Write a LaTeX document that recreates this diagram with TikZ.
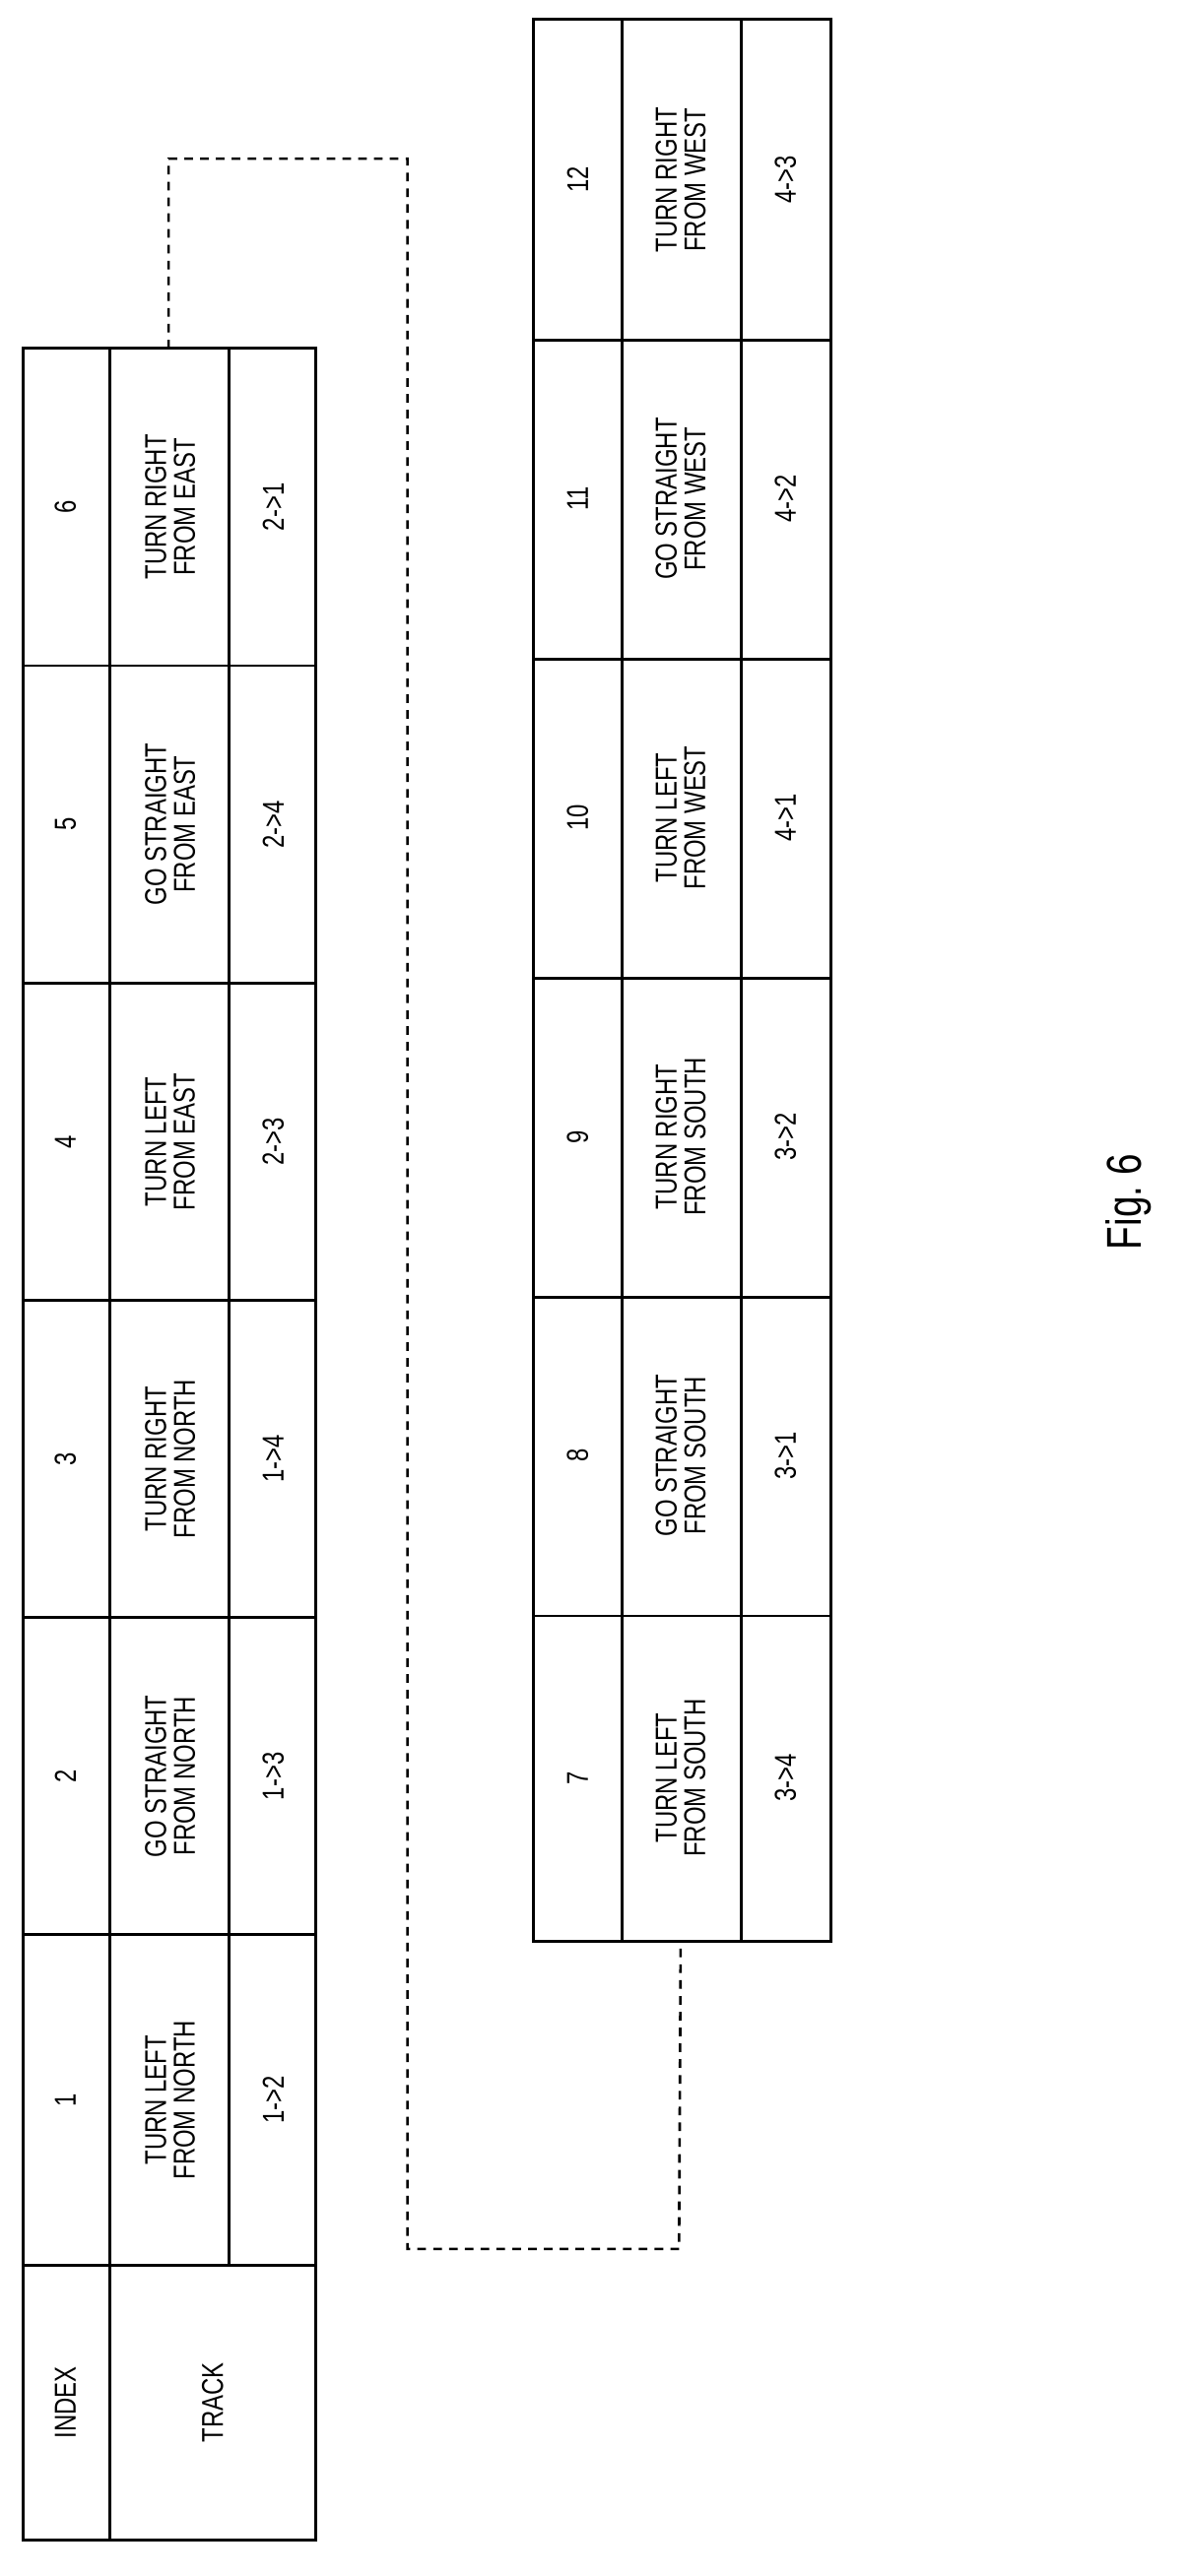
\documentclass[tikz,border=0pt]{standalone}
\usepackage{fontspec}
\newfontfamily\cond[FakeStretch=0.78]{Liberation Sans}
\begin{document}
\begin{tikzpicture}[x=0.02cm,y=-0.02cm,line width=1pt,
	txt/.style={rotate=90,font=\cond\fontsize{10.5}{10}\selectfont,align=center,inner sep=0pt},
	link/.style={dashed,dash pattern=on 3pt off 2.5pt,line width=0.9pt}]
	\useasboundingbox (0,0) rectangle (727,1575);
	
	%tabella sinistra
	\draw (14,213) rectangle (193,1553);
	\draw (67,213) -- (67,1553);
	\draw (140,213) -- (140,1385);
	\foreach \y in {407,601,795,989,1183,1385}
		\draw (14,\y) -- (193,\y);
	\node[txt] (index) at (40,1469) {INDEX};
	\node[txt] (track) at (130,1469) {TRACK};
	\foreach \i/\y/\a/\b/\c in {1/1284/TURN LEFT/FROM NORTH/1->2, 2/1086/GO STRAIGHT/FROM NORTH/1->3,
		3/892/TURN RIGHT/FROM NORTH/1->4, 4/698/TURN LEFT/FROM EAST/2->3,
		5/504/GO STRAIGHT/FROM EAST/2->4, 6/310/TURN RIGHT/FROM EAST/2->1}{
		\node[txt] (n\i) at (40,\y) {\i};
		\node[txt] (t\i) at (104,\y) {\a\\\b};
		\node[txt] (c\i) at (167,\y) {\c};
	}
	
	%tabella destra
	\draw (326,12) rectangle (508,1187);
	\draw (380,12) -- (380,1187);
	\draw (453,12) -- (453,1187);
	\foreach \y in {208,403,598,793,988}
		\draw (326,\y) -- (508,\y);
	\foreach \i/\y/\a/\b/\c in {7/1087/TURN LEFT/FROM SOUTH/3->4, 8/890/GO STRAIGHT/FROM SOUTH/3->1,
		9/695/TURN RIGHT/FROM SOUTH/3->2, 10/500/TURN LEFT/FROM WEST/4->1,
		11/305/GO STRAIGHT/FROM WEST/4->2, 12/110/TURN RIGHT/FROM WEST/4->3}{
		\node[txt] (n\i) at (353,\y) {\i};
		\node[txt] (t\i) at (416,\y) {\a\\\b};
		\node[txt] (c\i) at (480,\y) {\c};
	}
	
	%collegamento
	\coordinate (from) at (103,213);
	\coordinate (to) at (416,1187);
	\draw[link] (from) |- (249,97) |- (415,1375) -- (to);
	
	\node[txt,font=\cond\fontsize{17}{17}\selectfont] (fig) at (690,735) {Fig.~6};
\end{tikzpicture}
\end{document}
